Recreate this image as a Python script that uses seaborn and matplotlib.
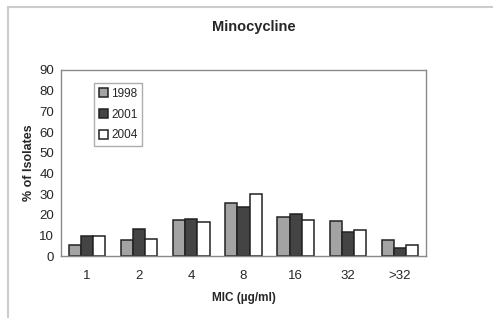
import pandas as pd
import matplotlib
matplotlib.use('Agg')
import matplotlib.pyplot as plt
import seaborn as sns
from matplotlib.patches import Rectangle

# Datos
mic = ['1', '2', '4', '8', '16', '32', '>32']
anios = ['1998', '2001', '2004']
v1998 = [5.3, 7.9, 17.5, 25.6, 18.8, 16.9, 7.9]
v2001 = [10.0, 13.0, 18.0, 23.8, 20.3, 11.6, 4.0]
v2004 = [10.0, 8.2, 16.4, 30.0, 17.5, 12.6, 5.3]
colores = ['#a3a3a3', '#444444', '#ffffff']

df = pd.DataFrame({
    'MIC': mic * 3,
    'Year': [a for a in anios for _ in mic],
    'Pct': v1998 + v2001 + v2004,
})

sns.set_style('white')
plt.rcParams['font.family'] = ['Liberation Sans', 'DejaVu Sans']

fig = plt.figure(figsize=(4.93, 3.18), dpi=100)
ax = fig.add_axes([61 / 493, 1 - 256.3 / 318, 365 / 493, 186.3 / 318])

sns.barplot(data=df, x='MIC', y='Pct', hue='Year', order=mic, hue_order=anios,
            palette=colores, width=0.7, edgecolor='#222222', linewidth=1.1,
            saturation=1, ax=ax)

ax.set_xlim(-0.5, 6.5)
ax.set_ylim(0, 90)
ax.set_yticks(range(0, 91, 10))
ax.tick_params(axis='y', length=3, width=0.8, color='#777777', labelsize=9.5, pad=2)
ax.tick_params(axis='x', length=0, labelsize=9.5, pad=10)
for s in ax.spines.values():
    s.set_color('#8a8a8a')
    s.set_linewidth(1.0)

ax.set_xlabel('MIC (\u00b5g/ml)', fontsize=8.5, fontweight='bold', labelpad=7)
ax.set_ylabel('% of Isolates', fontsize=9, fontweight='bold', labelpad=3)

leg = ax.legend(loc='upper left', bbox_to_anchor=(0.09, 0.93), fontsize=8.5,
                frameon=True, fancybox=False, edgecolor='#999999',
                handlelength=0.8, handleheight=0.8, handletextpad=0.25,
                labelspacing=0.75, borderpad=0.4, borderaxespad=0)
leg.get_frame().set_linewidth(1.0)

fig.text(254 / 493, 1 - 27 / 318, 'Minocycline', ha='center', va='center',
         fontsize=10.5, fontweight='bold')

# marco exterior gris claro
fig.patches.append(Rectangle((8 / 493, -0.1), 1.2, 1 - 7 / 318 + 0.1,
                             transform=fig.transFigure, fill=False,
                             edgecolor='#cccccc', linewidth=1.5))

fig.savefig('out.png', dpi=100)
